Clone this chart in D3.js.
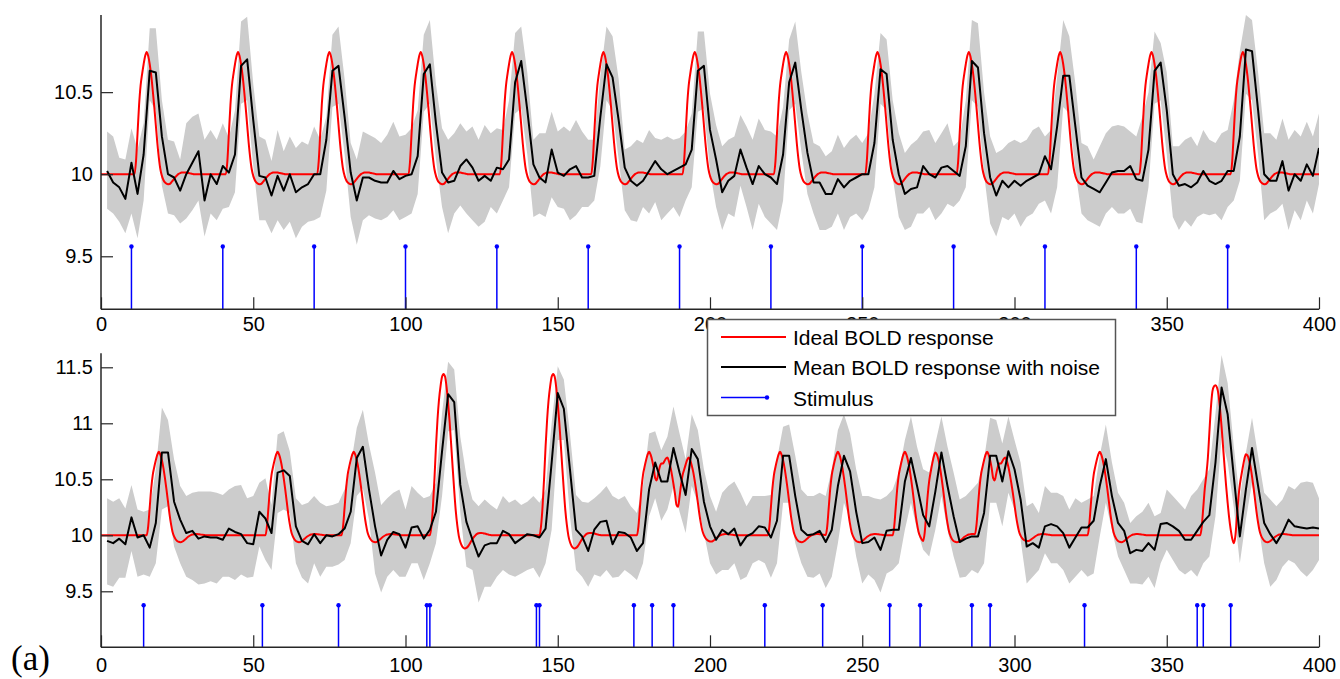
<!DOCTYPE html>
<html>
<head>
<meta charset="utf-8">
<script src="https://cdn.jsdelivr.net/npm/d3@7"></script>
<style>
  body { margin: 0; background: #fff; }
  svg { display: block; }
</style>
</head>
<body>
<div id="chart"></div>
<script>
// ---- data ----

// measured series are sampled every 2 s (t = 2 ... 400)
const sampleTimes = d3.range(2, 401, 2);

// stimulus onsets (s)
const topStimulus = [10, 40, 70, 100, 130, 160, 190, 220, 250, 280, 310, 340, 370];
const bottomStimulus = [14, 53, 78, 107, 108, 143, 144, 175, 181, 188, 218, 237, 259, 269, 286, 292, 323, 360, 362, 371];
const topStimLevel = 9.56;
const bottomStimLevel = 9.375;

// shape of one ideal response after a stimulus, every 0.5 s from 0 to 20.5 s
const hrfShape = [0, 0, 0, 0.08, 0.25, 0.42, 0.54, 0.61, 0.67, 0.72, 0.745, 0.72, 0.67, 0.60, 0.51, 0.41,
  0.30, 0.19, 0.10, 0.03, -0.01, -0.035, -0.05, -0.058, -0.061, -0.06, -0.052, -0.04, -0.028, -0.016,
  -0.006, 0.002, 0.007, 0.01, 0.011, 0.011, 0.01, 0.008, 0.006, 0.004, 0.002, 0];
const baseline = 10;

// top panel: mean BOLD with noise and the grey band around it
const topMean = [
  10.02, 9.95, 9.92, 9.85, 10.07, 9.88, 10.12, 10.63, 10.62, 10.23, 10.00, 9.98, 9.90, 10.00, 10.07, 10.14, 9.84, 10.00, 9.94, 10.05, 10.01, 10.12, 10.66, 10.70, 10.33, 9.99, 9.98, 9.87, 9.99, 9.90, 10.00, 9.89, 9.92, 9.94, 10.00, 10.00, 10.21, 10.63, 10.66, 10.35, 10.01, 9.84, 9.98, 9.98, 9.96, 9.95, 9.95, 10.02, 9.97, 9.99,
  10.00, 10.11, 10.61, 10.67, 10.31, 10.01, 9.95, 9.96, 10.05, 10.09, 10.04, 9.96, 9.99, 9.96, 10.04, 10.03, 10.09, 10.56, 10.69, 10.39, 10.06, 9.98, 9.95, 10.15, 10.01, 9.99, 10.03, 10.05, 9.98, 9.98, 9.99, 10.35, 10.67, 10.59, 10.33, 10.04, 9.96, 9.93, 9.96, 10.02, 10.08, 10.03, 10.00, 10.02, 10.04, 10.06, 10.15, 10.63, 10.66, 10.27,
  10.09, 9.89, 9.96, 9.99, 10.15, 10.04, 9.94, 10.05, 10.00, 9.98, 9.94, 10.12, 10.56, 10.68, 10.39, 10.13, 9.95, 9.95, 9.88, 9.88, 9.97, 9.92, 9.96, 9.98, 10.00, 10.00, 10.19, 10.64, 10.61, 10.21, 10.00, 9.88, 9.91, 9.92, 10.05, 10.00, 9.98, 10.04, 10.05, 10.02, 9.99, 10.17, 10.69, 10.65, 10.25, 9.98, 9.87, 9.96, 9.92, 9.96,
  9.93, 9.96, 9.98, 10.00, 10.11, 10.03, 10.29, 10.60, 10.60, 10.29, 9.98, 9.93, 9.91, 9.89, 9.95, 10.01, 10.02, 10.02, 10.05, 9.97, 9.96, 10.15, 10.63, 10.68, 10.39, 10.00, 9.93, 9.94, 9.92, 9.95, 10.02, 9.96, 9.94, 9.96, 10.02, 10.02, 10.23, 10.76, 10.75, 10.39, 10.00, 9.96, 9.96, 10.08, 9.90, 10.00, 9.96, 10.06, 9.99, 10.16
];
const topUpper = [
  10.26, 10.23, 10.10, 10.09, 10.28, 10.15, 10.31, 10.89, 10.89, 10.45, 10.21, 10.20, 10.09, 10.31, 10.35, 10.37, 10.21, 10.27, 10.21, 10.31, 10.22, 10.39, 10.93, 10.96, 10.55, 10.23, 10.21, 10.08, 10.27, 10.14, 10.23, 10.16, 10.20, 10.18, 10.29, 10.21, 10.35, 10.85, 10.90, 10.58, 10.19, 10.09, 10.26, 10.24, 10.22, 10.19, 10.24, 10.32, 10.23, 10.24,
  10.28, 10.39, 10.85, 10.94, 10.55, 10.28, 10.21, 10.25, 10.31, 10.26, 10.29, 10.21, 10.30, 10.25, 10.28, 10.27, 10.45, 10.86, 10.90, 10.62, 10.21, 10.25, 10.25, 10.38, 10.26, 10.29, 10.26, 10.33, 10.26, 10.21, 10.21, 10.60, 10.90, 10.84, 10.58, 10.15, 10.17, 10.21, 10.19, 10.27, 10.22, 10.21, 10.23, 10.21, 10.22, 10.26, 10.37, 10.87, 10.87, 10.49,
  10.30, 10.17, 10.21, 10.23, 10.36, 10.29, 10.21, 10.34, 10.27, 10.26, 10.23, 10.41, 10.82, 10.93, 10.62, 10.37, 10.19, 10.17, 10.11, 10.14, 10.24, 10.16, 10.21, 10.24, 10.19, 10.25, 10.49, 10.86, 10.82, 10.45, 10.25, 10.13, 10.18, 10.21, 10.26, 10.27, 10.19, 10.25, 10.31, 10.17, 10.21, 10.45, 10.94, 10.92, 10.50, 10.23, 10.13, 10.15, 10.19, 10.21,
  10.19, 10.21, 10.27, 10.29, 10.23, 10.27, 10.59, 10.94, 10.84, 10.55, 10.19, 10.17, 10.09, 10.17, 10.25, 10.29, 10.30, 10.29, 10.26, 10.23, 10.35, 10.50, 10.87, 10.80, 10.62, 10.17, 10.17, 10.21, 10.23, 10.17, 10.27, 10.21, 10.19, 10.25, 10.27, 10.45, 10.75, 10.97, 10.94, 10.62, 10.25, 10.25, 10.21, 10.34, 10.21, 10.27, 10.23, 10.32, 10.23, 10.37
];
const topLower = [
  9.79, 9.76, 9.71, 9.64, 9.76, 9.61, 9.84, 10.45, 10.39, 9.93, 9.76, 9.75, 9.70, 9.73, 9.78, 9.84, 9.62, 9.76, 9.72, 9.79, 9.80, 9.89, 10.43, 10.45, 10.05, 9.72, 9.72, 9.64, 9.72, 9.66, 9.71, 9.61, 9.68, 9.71, 9.72, 9.74, 9.90, 10.41, 10.43, 10.12, 9.74, 9.57, 9.72, 9.75, 9.73, 9.72, 9.74, 9.78, 9.72, 9.74,
  9.76, 9.88, 10.38, 10.43, 10.09, 9.80, 9.64, 9.76, 9.81, 9.76, 9.72, 9.68, 9.71, 9.80, 9.76, 9.84, 9.92, 10.37, 10.40, 10.12, 9.74, 9.76, 9.74, 9.86, 9.80, 9.79, 9.72, 9.75, 9.80, 9.80, 9.84, 10.05, 10.45, 10.39, 10.09, 9.78, 9.72, 9.71, 9.80, 9.76, 9.83, 9.72, 9.76, 9.80, 9.74, 9.84, 9.92, 10.38, 10.40, 10.02,
  9.80, 9.66, 9.76, 9.74, 9.93, 9.80, 9.66, 9.82, 9.74, 9.70, 9.66, 9.84, 10.39, 10.43, 10.14, 9.88, 9.76, 9.66, 9.66, 9.68, 9.76, 9.66, 9.74, 9.76, 9.72, 9.78, 9.92, 10.43, 10.39, 9.98, 9.74, 9.66, 9.68, 9.76, 9.76, 9.80, 9.72, 9.76, 9.82, 9.80, 9.84, 9.92, 10.45, 10.41, 10.00, 9.70, 9.62, 9.74, 9.72, 9.76,
  9.68, 9.74, 9.76, 9.82, 9.84, 9.76, 9.92, 10.41, 10.37, 10.02, 9.76, 9.72, 9.70, 9.68, 9.76, 9.80, 9.76, 9.76, 9.79, 9.71, 9.70, 9.92, 10.43, 10.45, 10.12, 9.74, 9.66, 9.72, 9.68, 9.74, 9.76, 9.75, 9.76, 9.72, 9.80, 9.84, 9.96, 10.49, 10.45, 10.12, 9.72, 9.76, 9.78, 9.82, 9.66, 9.78, 9.72, 9.84, 9.76, 9.94
];

// bottom panel
const bottomMean = [
  9.95, 9.93, 9.97, 9.92, 10.16, 9.98, 10.00, 9.89, 10.11, 10.74, 10.74, 10.30, 10.14, 10.02, 10.04, 9.97, 9.99, 9.98, 9.98, 9.96, 10.06, 10.03, 10.01, 9.93, 9.92, 10.21, 10.15, 10.02, 10.56, 10.58, 10.53, 10.08, 9.95, 9.92, 10.01, 9.93, 10.00, 9.99, 10.01, 10.06, 10.21, 10.69, 10.79, 10.41, 10.08, 9.82, 9.96, 10.03, 10.01, 9.89,
  10.07, 10.08, 9.97, 10.05, 10.21, 10.75, 11.26, 11.19, 10.45, 10.12, 9.96, 9.81, 9.91, 9.93, 9.93, 10.04, 10.01, 9.93, 9.97, 10.01, 10.00, 9.98, 10.06, 10.65, 11.27, 11.13, 10.59, 10.05, 9.99, 9.86, 10.05, 10.12, 10.13, 9.92, 10.03, 10.02, 9.98, 9.86, 9.93, 10.41, 10.65, 10.48, 10.48, 10.78, 10.56, 10.36, 10.77, 10.68, 10.30, 10.08,
  9.96, 10.05, 10.01, 10.06, 9.91, 9.99, 10.02, 10.08, 10.07, 9.98, 10.13, 10.71, 10.71, 10.35, 10.05, 10.00, 10.01, 10.04, 9.94, 10.05, 10.44, 10.71, 10.57, 10.21, 9.93, 9.94, 9.98, 9.87, 10.04, 10.05, 10.05, 10.48, 10.69, 10.44, 10.18, 10.08, 10.39, 10.74, 10.44, 10.17, 9.94, 9.97, 9.99, 9.99, 10.20, 10.71, 10.71, 10.48, 10.75, 10.59,
  10.32, 9.90, 9.93, 9.89, 10.08, 10.10, 10.08, 10.02, 9.89, 9.98, 10.07, 10.07, 10.13, 10.44, 10.68, 10.35, 10.11, 10.04, 9.84, 9.87, 9.86, 9.93, 9.87, 10.10, 10.11, 10.08, 10.04, 9.96, 9.96, 10.04, 10.12, 10.18, 10.65, 11.32, 11.08, 10.53, 9.99, 10.41, 10.78, 10.44, 10.11, 10.01, 9.93, 10.02, 10.14, 10.08, 10.07, 10.06, 10.07, 10.06
];
const bottomUpper = [
  10.33, 10.30, 10.33, 10.24, 10.45, 10.23, 10.21, 10.23, 10.59, 11.14, 11.03, 10.68, 10.44, 10.35, 10.38, 10.39, 10.39, 10.39, 10.38, 10.36, 10.41, 10.44, 10.45, 10.33, 10.35, 10.47, 10.51, 10.27, 10.90, 10.93, 10.75, 10.33, 10.27, 10.29, 10.35, 10.29, 10.26, 10.27, 10.29, 10.41, 10.62, 10.96, 11.12, 10.81, 10.56, 10.27, 10.33, 10.38, 10.41, 10.23,
  10.44, 10.38, 10.33, 10.35, 10.47, 11.09, 11.55, 11.48, 10.88, 10.53, 10.32, 10.26, 10.32, 10.27, 10.23, 10.35, 10.29, 10.32, 10.27, 10.30, 10.35, 10.29, 10.41, 11.00, 11.51, 11.39, 10.91, 10.36, 10.30, 10.29, 10.33, 10.38, 10.44, 10.35, 10.32, 10.35, 10.26, 10.20, 10.44, 10.91, 10.93, 10.76, 10.88, 11.15, 10.91, 10.68, 11.08, 10.94, 10.59, 10.35,
  10.21, 10.38, 10.44, 10.48, 10.38, 10.26, 10.35, 10.35, 10.35, 10.36, 10.68, 10.97, 10.99, 10.71, 10.41, 10.35, 10.35, 10.38, 10.35, 10.59, 10.94, 11.08, 10.91, 10.59, 10.35, 10.35, 10.33, 10.32, 10.35, 10.41, 10.56, 10.85, 11.06, 10.79, 10.59, 10.56, 10.82, 11.06, 10.79, 10.56, 10.32, 10.35, 10.41, 10.47, 10.68, 11.05, 11.03, 10.82, 11.06, 10.85,
  10.65, 10.26, 10.29, 10.20, 10.44, 10.38, 10.38, 10.35, 10.23, 10.33, 10.29, 10.32, 10.35, 10.71, 10.99, 10.65, 10.38, 10.29, 10.11, 10.17, 10.21, 10.29, 10.17, 10.20, 10.41, 10.35, 10.29, 10.23, 10.35, 10.41, 10.50, 10.59, 11.09, 11.61, 11.36, 10.80, 10.32, 10.74, 11.05, 10.71, 10.38, 10.32, 10.26, 10.32, 10.44, 10.41, 10.47, 10.48, 10.47, 10.33
];
const bottomLower = [
  9.56, 9.54, 9.62, 9.62, 9.86, 9.63, 9.65, 9.63, 9.75, 10.23, 10.26, 9.90, 9.75, 9.63, 9.60, 9.56, 9.57, 9.59, 9.57, 9.63, 9.63, 9.60, 9.65, 9.62, 9.63, 9.90, 9.78, 9.69, 10.20, 10.23, 10.20, 9.75, 9.62, 9.57, 9.75, 9.63, 9.72, 9.72, 9.74, 9.78, 9.93, 10.35, 10.42, 10.14, 9.66, 9.49, 9.63, 9.69, 9.63, 9.63,
  9.75, 9.75, 9.60, 9.75, 9.93, 10.35, 10.93, 10.94, 10.20, 9.72, 9.69, 9.40, 9.54, 9.54, 9.63, 9.69, 9.65, 9.63, 9.66, 9.69, 9.71, 9.62, 9.75, 10.05, 10.85, 10.85, 10.17, 9.69, 9.63, 9.54, 9.65, 9.63, 9.69, 9.62, 9.63, 9.69, 9.65, 9.60, 9.75, 10.17, 10.33, 10.13, 10.23, 10.44, 10.21, 10.02, 10.44, 10.29, 10.02, 9.75,
  9.65, 9.69, 9.69, 9.75, 9.60, 9.63, 9.75, 9.78, 9.75, 9.62, 9.75, 10.29, 10.29, 9.93, 9.75, 9.63, 9.62, 9.66, 9.53, 9.63, 9.93, 10.29, 10.14, 9.81, 9.57, 9.65, 9.60, 9.49, 9.66, 9.69, 9.75, 10.05, 10.29, 10.05, 9.87, 9.81, 10.05, 10.35, 10.05, 9.81, 9.62, 9.63, 9.69, 9.66, 9.75, 10.29, 10.29, 10.08, 10.38, 10.23,
  9.96, 9.57, 9.63, 9.69, 9.84, 9.75, 9.75, 9.69, 9.57, 9.63, 9.69, 9.63, 9.66, 9.99, 10.29, 10.05, 9.81, 9.69, 9.57, 9.57, 9.56, 9.63, 9.53, 9.75, 9.87, 9.78, 9.69, 9.65, 9.69, 9.63, 9.75, 9.81, 10.17, 10.88, 10.65, 10.25, 9.75, 10.14, 10.47, 10.11, 9.75, 9.54, 9.60, 9.72, 9.78, 9.75, 9.68, 9.63, 9.69, 9.78
];

// ticks
const xTicks = [0, 50, 100, 150, 200, 250, 300, 350, 400];
const topYTicks = [9.5, 10, 10.5];
const bottomYTicks = [9.5, 10, 10.5, 11, 11.5];

// legend entries
const legendLabels = ["Ideal BOLD response", "Mean BOLD response with noise", "Stimulus"];

// ---- drawing ----
const width = 1340;
const height = 679;

const svg = d3.select("#chart")
    .append("svg")
    .attr("width", width)
    .attr("height", height);

const x = d3.scaleLinear().domain([0, 400]).range([101, 1319]);

// ideal response: sum of the response shape after every stimulus
function idealSeries(stimuli) {
    const times = d3.range(0, 400.01, 0.5);
    return times.map(t => {
        const v = baseline + d3.sum(stimuli, s => {
            const k = Math.round((t - s) * 2);
            return (k >= 0 && k < hrfShape.length) ? hrfShape[k] : 0;
        });
        return { t: t, v: v };
    });
}

function drawPanel(p) {
    const y = d3.scaleLinear().domain(p.yDomain).range([p.bottom, p.top]);
    const g = svg.append("g");

    svg.append("clipPath").attr("id", p.id)
        .append("rect")
        .attr("x", x(0)).attr("y", p.top)
        .attr("width", x(400) - x(0)).attr("height", p.bottom - p.top);

    const plot = g.append("g").attr("clip-path", `url(#${p.id})`);

    // grey band
    const band = sampleTimes.map((t, i) => ({ t: t, lo: p.lower[i], hi: p.upper[i] }));
    plot.append("path")
        .datum(band)
        .attr("d", d3.area().x(d => x(d.t)).y0(d => y(d.lo)).y1(d => y(d.hi)))
        .style("fill", "#cccccc")
        .style("stroke", "none");

    // ideal response
    plot.append("path")
        .datum(idealSeries(p.stim))
        .attr("d", d3.line().x(d => x(d.t)).y(d => y(d.v)).curve(d3.curveMonotoneX))
        .style("fill", "none")
        .style("stroke", "#ff0000")
        .style("stroke-width", 2);

    // mean response with noise
    const mean = sampleTimes.map((t, i) => ({ t: t, v: p.mean[i] }));
    plot.append("path")
        .datum(mean)
        .attr("d", d3.line().x(d => x(d.t)).y(d => y(d.v)))
        .style("fill", "none")
        .style("stroke", "#000000")
        .style("stroke-width", 2)
        .style("stroke-linejoin", "round");

    // stimulus stems
    g.selectAll(null)
        .data(p.stim)
        .enter()
        .append("line")
        .attr("x1", d => x(d)).attr("x2", d => x(d))
        .attr("y1", p.bottom).attr("y2", y(p.stimLevel))
        .style("stroke", "#0000ff")
        .style("stroke-width", 1.5);
    g.selectAll(null)
        .data(p.stim)
        .enter()
        .append("circle")
        .attr("cx", d => x(d)).attr("cy", y(p.stimLevel))
        .attr("r", 2.2)
        .style("fill", "#0000ff");

    // axes, ticks pointing inward
    const xAxis = d3.axisBottom(x)
        .tickValues(xTicks)
        .tickFormat(d3.format("d"))
        .tickSizeInner(-12)
        .tickSizeOuter(0)
        .tickPadding(p.xPad);
    const yAxis = d3.axisLeft(y)
        .tickValues(p.yTicks)
        .tickFormat(d => String(d))
        .tickSizeInner(-12)
        .tickSizeOuter(0)
        .tickPadding(8);

    const gx = g.append("g").attr("transform", `translate(0,${p.bottom})`).call(xAxis);
    const gy = g.append("g").attr("transform", `translate(${x(0)},0)`).call(yAxis);
    [gx, gy].forEach(a => {
        a.select(".domain").attr("d", null);
        a.selectAll("line").style("stroke", "#262626").style("stroke-width", 1.2);
        a.selectAll("text")
            .style("font-family", "'Liberation Sans', Arial, sans-serif")
            .style("font-size", "20px")
            .style("fill", "#000");
    });
    // axis lines
    g.append("line")
        .attr("x1", x(0)).attr("x2", x(400)).attr("y1", p.bottom).attr("y2", p.bottom)
        .style("stroke", "#262626").style("stroke-width", 1.5);
    g.append("line")
        .attr("x1", x(0)).attr("x2", x(0)).attr("y1", p.top).attr("y2", p.bottom)
        .style("stroke", "#262626").style("stroke-width", 1.5);
}

drawPanel({
    id: "clipTop", top: 15, bottom: 309.3, yDomain: [9.177, 10.97],
    mean: topMean, upper: topUpper, lower: topLower,
    stim: topStimulus, stimLevel: topStimLevel, yTicks: topYTicks, xPad: 8
});
drawPanel({
    id: "clipBottom", top: 353.3, bottom: 647.3, yDomain: [9.0, 11.625],
    mean: bottomMean, upper: bottomUpper, lower: bottomLower,
    stim: bottomStimulus, stimLevel: bottomStimLevel, yTicks: bottomYTicks, xPad: 11
});

// legend
const legend = svg.append("g");
legend.append("rect")
    .attr("x", 707.5).attr("y", 319.5)
    .attr("width", 408).attr("height", 96)
    .style("fill", "#fff")
    .style("stroke", "#555")
    .style("stroke-width", 1.5);

const legendColors = ["#ff0000", "#000000", "#0000ff"];
const legendRows = [337, 367, 397.5];
legendLabels.forEach((label, i) => {
    const yy = legendRows[i];
    legend.append("line")
        .attr("x1", 721).attr("x2", i === 2 ? 767 : 786)
        .attr("y1", yy).attr("y2", yy)
        .style("stroke", legendColors[i])
        .style("stroke-width", i === 2 ? 1.5 : 2);
    if (i === 2) {
        legend.append("circle").attr("cx", 767).attr("cy", yy).attr("r", 2.2).style("fill", "#0000ff");
    }
    legend.append("text")
        .attr("x", 793)
        .attr("y", yy + 8)
        .text(label)
        .style("font-family", "'Liberation Sans', Arial, sans-serif")
        .style("font-size", "21px")
        .style("fill", "#000");
});

// panel label
svg.append("text")
    .attr("x", 11)
    .attr("y", 670)
    .text("(a)")
    .style("font-family", "'Liberation Serif', 'DejaVu Serif', serif")
    .style("font-size", "35px")
    .style("fill", "#000");
</script>
</body>
</html>
